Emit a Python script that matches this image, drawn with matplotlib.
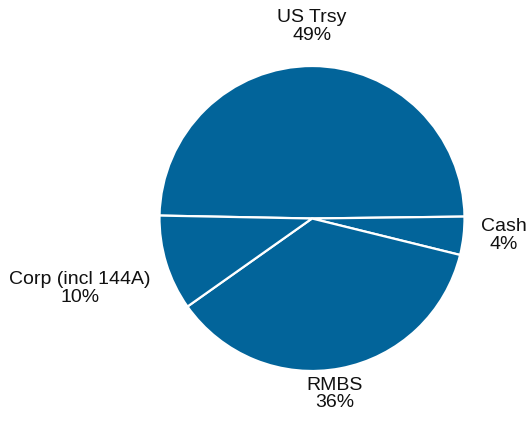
import matplotlib
matplotlib.use('Agg')
import matplotlib.pyplot as plt

# portfolio allocation, percent
sectors = ['US Trsy', 'Cash', 'RMBS', 'Corp (incl 144A)']
weights = [49, 4, 36, 10]

# label anchor per sector, in units of the pie radius
label_pos = [(0.0, 1.26), (1.26, -0.11), (0.15, -1.15), (-1.52, -0.46)]

W, H = 529, 425
cx, cy, r = 312, 218.5, 152.5

fig = plt.figure(figsize=(W/100, H/100), dpi=100)
ax = fig.add_axes([0, 0, 1, 1])

wedges, _ = ax.pie(weights, colors=['#02649a']*len(weights), startangle=178.9,
                   counterclock=False, radius=1,
                   wedgeprops=dict(edgecolor='white', linewidth=1.6))

for name, w, (x, y) in zip(sectors, weights, label_pos):
    ax.text(x, y, name + '\n' + '%d%%' % w, ha='center', va='center',
            fontsize=14, family='Liberation Sans', linespacing=1.05, color='#111111')

ax.set_xlim(-cx/r, (W-cx)/r)
ax.set_ylim(-(H-cy)/r, cy/r)
ax.axis('off')

plt.savefig('out.png', dpi=100)
